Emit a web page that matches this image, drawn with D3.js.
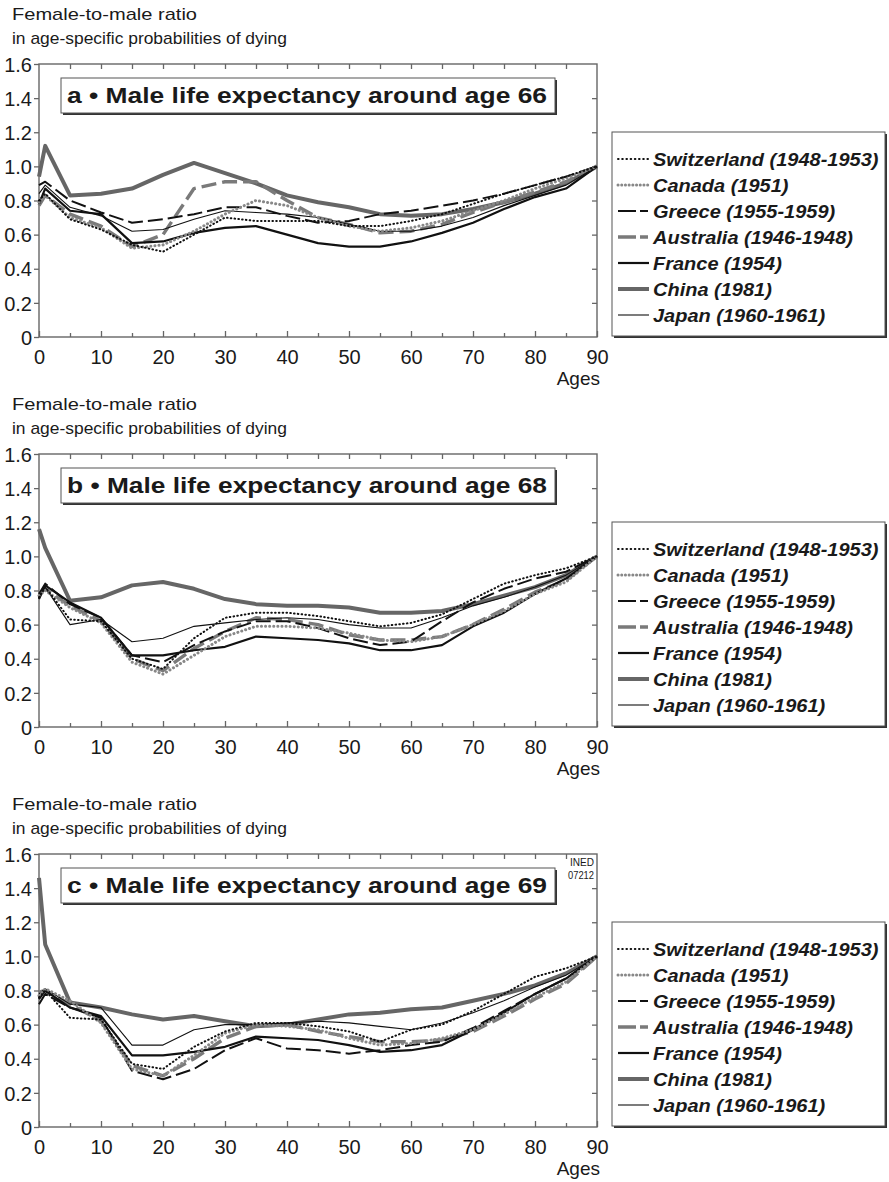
<!DOCTYPE html>
<html>
<head>
<meta charset="utf-8">
<script src="https://cdn.jsdelivr.net/npm/d3@7"></script>
<style>
  body { margin: 0; background: #fff; }
  svg { display: block; }
  text { font-family: "Liberation Sans", Arial, Helvetica, sans-serif; fill: #1a1a1a; }
</style>
</head>
<body>
<svg id="chart" width="889" height="1182"></svg>
<script>
// ages on the x axis
var ages = [0, 1, 5, 10, 15, 20, 25, 30, 35, 40, 45, 50, 55, 60, 65, 70, 75, 80, 85, 90];
var countries = ["Switzerland (1948-1953)", "Canada (1951)", "Greece (1955-1959)",
  "Australia (1946-1948)", "France (1954)", "China (1981)", "Japan (1960-1961)"];
var panelTitles = ["a \u2022  Male life expectancy around age 66",
  "b \u2022  Male life expectancy around age 68",
  "c \u2022  Male life expectancy around age 69"];
var yTicks = [0, 0.2, 0.4, 0.6, 0.8, 1.0, 1.2, 1.4, 1.6];
var yTickLabels = ["0", "0.2", "0.4", "0.6", "0.8", "1.0", "1.2", "1.4", "1.6"];
var xTicks = [0, 10, 20, 30, 40, 50, 60, 70, 80, 90];
var xMinorTicks = [5, 15, 25, 35, 45, 55, 65, 75, 85];

// panel a : life expectancy ~66
var switzA = [0.80, 0.84, 0.69, 0.63, 0.54, 0.50, 0.60, 0.70, 0.68, 0.68, 0.68, 0.65, 0.65, 0.68, 0.72, 0.78, 0.84, 0.89, 0.94, 1.0];
var canadaA = [0.79, 0.83, 0.70, 0.64, 0.52, 0.54, 0.62, 0.72, 0.80, 0.77, 0.70, 0.65, 0.62, 0.64, 0.68, 0.74, 0.80, 0.87, 0.93, 1.0];
var greeceA = [0.89, 0.91, 0.80, 0.73, 0.67, 0.69, 0.72, 0.76, 0.76, 0.71, 0.67, 0.68, 0.72, 0.74, 0.77, 0.80, 0.84, 0.89, 0.94, 1.0];
var austrA = [0.77, 0.83, 0.72, 0.65, 0.53, 0.60, 0.87, 0.91, 0.91, 0.80, 0.70, 0.66, 0.61, 0.62, 0.66, 0.73, 0.79, 0.85, 0.91, 1.0];
var franceA = [0.78, 0.87, 0.74, 0.72, 0.55, 0.56, 0.61, 0.64, 0.65, 0.60, 0.55, 0.53, 0.53, 0.56, 0.61, 0.67, 0.75, 0.82, 0.87, 1.0];
var chinaA = [0.94, 1.12, 0.83, 0.84, 0.87, 0.95, 1.02, 0.96, 0.90, 0.83, 0.79, 0.76, 0.72, 0.71, 0.72, 0.75, 0.79, 0.84, 0.90, 1.0];
var japanA = [0.84, 0.89, 0.76, 0.71, 0.62, 0.63, 0.69, 0.74, 0.73, 0.72, 0.70, 0.66, 0.62, 0.62, 0.65, 0.70, 0.77, 0.83, 0.89, 1.0];

// panel b : life expectancy ~68
var switzB = [0.76, 0.82, 0.63, 0.62, 0.40, 0.34, 0.52, 0.64, 0.67, 0.67, 0.65, 0.62, 0.59, 0.61, 0.66, 0.75, 0.84, 0.89, 0.93, 1.0];
var canadaB = [0.77, 0.80, 0.70, 0.61, 0.38, 0.31, 0.42, 0.53, 0.59, 0.59, 0.58, 0.55, 0.51, 0.50, 0.53, 0.60, 0.68, 0.78, 0.85, 1.0];
var greeceB = [0.78, 0.84, 0.72, 0.64, 0.42, 0.38, 0.48, 0.56, 0.62, 0.62, 0.58, 0.52, 0.48, 0.50, 0.62, 0.73, 0.81, 0.87, 0.91, 1.0];
var austrB = [0.78, 0.81, 0.71, 0.62, 0.40, 0.33, 0.46, 0.56, 0.64, 0.63, 0.60, 0.54, 0.51, 0.51, 0.53, 0.60, 0.69, 0.79, 0.86, 1.0];
var franceB = [0.75, 0.83, 0.73, 0.64, 0.42, 0.42, 0.45, 0.47, 0.53, 0.52, 0.51, 0.49, 0.45, 0.45, 0.48, 0.59, 0.67, 0.78, 0.87, 1.0];
var chinaB = [1.16, 1.05, 0.74, 0.76, 0.83, 0.85, 0.81, 0.75, 0.72, 0.71, 0.71, 0.70, 0.67, 0.67, 0.68, 0.72, 0.77, 0.82, 0.89, 1.0];
var japanB = [0.77, 0.82, 0.60, 0.63, 0.50, 0.52, 0.59, 0.61, 0.63, 0.64, 0.63, 0.60, 0.58, 0.58, 0.64, 0.71, 0.76, 0.82, 0.89, 1.0];

// panel c : life expectancy ~69
var switzC = [0.76, 0.80, 0.64, 0.63, 0.37, 0.34, 0.47, 0.56, 0.61, 0.61, 0.59, 0.56, 0.50, 0.57, 0.60, 0.68, 0.78, 0.88, 0.93, 1.0];
var canadaC = [0.77, 0.81, 0.74, 0.61, 0.34, 0.30, 0.42, 0.55, 0.60, 0.59, 0.57, 0.52, 0.48, 0.49, 0.52, 0.57, 0.66, 0.76, 0.85, 1.0];
var greeceC = [0.72, 0.78, 0.70, 0.64, 0.33, 0.28, 0.34, 0.45, 0.52, 0.46, 0.45, 0.43, 0.45, 0.48, 0.50, 0.58, 0.68, 0.78, 0.87, 1.0];
var austrC = [0.79, 0.80, 0.72, 0.62, 0.36, 0.30, 0.40, 0.52, 0.59, 0.60, 0.56, 0.53, 0.50, 0.50, 0.51, 0.56, 0.65, 0.75, 0.84, 1.0];
var franceC = [0.75, 0.80, 0.70, 0.65, 0.42, 0.42, 0.44, 0.47, 0.53, 0.52, 0.51, 0.48, 0.44, 0.45, 0.48, 0.57, 0.67, 0.78, 0.87, 1.0];
var chinaC = [1.46, 1.07, 0.73, 0.70, 0.66, 0.63, 0.65, 0.62, 0.59, 0.60, 0.63, 0.66, 0.67, 0.69, 0.70, 0.74, 0.78, 0.83, 0.90, 1.0];
var japanC = [0.78, 0.81, 0.72, 0.70, 0.48, 0.48, 0.57, 0.60, 0.60, 0.61, 0.62, 0.61, 0.59, 0.57, 0.61, 0.67, 0.74, 0.82, 0.89, 1.0];

var panels = [
  { top: 64,  title: panelTitles[0], series: [switzA, canadaA, greeceA, austrA, franceA, chinaA, japanA] },
  { top: 454, title: panelTitles[1], series: [switzB, canadaB, greeceB, austrB, franceB, chinaB, japanB] },
  { top: 854, title: panelTitles[2], series: [switzC, canadaC, greeceC, austrC, franceC, chinaC, japanC], stamp: true }
];

// line look for each country, same order as countries
var styles = [
  { color: "#111", width: 2,   dash: "0.6,3.2", cap: "round", legDash: "0.6,3.6" },
  { color: "#888", width: 3,   dash: "0.1,4",   cap: "round", legDash: "0.1,3.6" },
  { color: "#111", width: 2,   dash: "15,5",    cap: "butt",  legDash: "18,4,8,20" },
  { color: "#7a7a7a", width: 3.4, dash: "15,6", cap: "butt",  legDash: "18,4,8,20" },
  { color: "#111", width: 2.2, dash: null,      cap: "butt",  legDash: null },
  { color: "#666", width: 4,   dash: null,      cap: "butt",  legDash: null },
  { color: "#111", width: 1.1, dash: null,      cap: "butt",  legDash: null }
];

var svg = d3.select("#chart");
var left = 39, right = 597, plotH = 273;
var x = d3.scaleLinear().domain([0, 90]).range([left, right]);

// stretch text horizontally, the original type is a bit wide
function stretch(sel, f) {
  sel.each(function() {
    var w = this.getComputedTextLength();
    d3.select(this).attr("textLength", w * f).attr("lengthAdjust", "spacingAndGlyphs");
  });
}

function shadowBox(g, x0, y0, w, h) {
  g.append("rect").attr("x", x0 + 2).attr("y", y0 + 2).attr("width", w).attr("height", h)
    .attr("fill", "#333");
  g.append("rect").attr("x", x0).attr("y", y0).attr("width", w).attr("height", h)
    .attr("fill", "#fff").attr("stroke", "#555").attr("stroke-width", 1);
}

panels.forEach(function(p) {
  var top = p.top, bottom = top + plotH;
  var y = d3.scaleLinear().domain([0, 1.6]).range([bottom, top]);
  var g = svg.append("g");

  // y title, two lines
  g.append("text").attr("x", 12).attr("y", top - 44).attr("font-size", 17)
    .attr("textLength", 185).attr("lengthAdjust", "spacingAndGlyphs").text("Female-to-male ratio");
  g.append("text").attr("x", 12).attr("y", top - 20).attr("font-size", 17)
    .attr("textLength", 275).attr("lengthAdjust", "spacingAndGlyphs").text("in age-specific probabilities of dying");

  // frame
  g.append("rect").attr("x", left).attr("y", top).attr("width", right - left).attr("height", plotH)
    .attr("fill", "none").attr("stroke", "#666").attr("stroke-width", 1.4);

  // axes
  var axL = g.append("g").attr("transform", "translate(" + left + ",0)")
    .call(d3.axisLeft(y).tickValues(yTicks).tickFormat(function(d, i) { return yTickLabels[i]; })
      .tickSize(5).tickPadding(2));
  var axR = g.append("g").attr("transform", "translate(" + right + ",0)")
    .call(d3.axisRight(y).tickValues(yTicks.slice(1, -1)).tickFormat("").tickSize(-5));
  var axT = g.append("g").attr("transform", "translate(0," + top + ")")
    .call(d3.axisTop(x).tickValues(xTicks.concat(xMinorTicks).filter(function(d) { return d > 0 && d < 90; }))
      .tickFormat("").tickSize(-5));
  var axB = g.append("g").attr("transform", "translate(0," + bottom + ")")
    .call(d3.axisBottom(x).tickValues(xTicks).tickSize(-6).tickPadding(13));
  var axBm = g.append("g").attr("transform", "translate(0," + bottom + ")")
    .call(d3.axisBottom(x).tickValues(xMinorTicks).tickFormat("").tickSize(-4));

  [axL, axR, axT, axB, axBm].forEach(function(a) {
    a.select(".domain").remove();
    a.selectAll(".tick line").attr("stroke", "#666").attr("stroke-width", 1.3);
    a.selectAll(".tick text").attr("fill", "#1a1a1a").attr("font-size", 20)
      .attr("font-family", "\"Liberation Sans\", Arial, sans-serif");
  });
  axL.selectAll(".tick text").attr("dy", "0.36em");
  axB.selectAll(".tick text").attr("dy", "0.71em");

  g.append("text").attr("x", 600).attr("y", bottom + 48).attr("text-anchor", "end")
    .attr("font-size", 19).text("Ages");

  // panel title box
  shadowBox(g, 61, top + 14, 494, 35);
  var tt = g.append("text").attr("x", 67).attr("y", top + 39).attr("font-size", 22.5)
    .attr("font-weight", "bold").text(p.title);
  tt.attr("textLength", 480).attr("lengthAdjust", "spacingAndGlyphs");

  if (p.stamp) {
    g.append("text").attr("x", 594).attr("y", top + 12).attr("text-anchor", "end")
      .attr("font-size", 10.5).attr("textLength", 24).attr("lengthAdjust", "spacingAndGlyphs").text("INED");
    g.append("text").attr("x", 594).attr("y", top + 25).attr("text-anchor", "end")
      .attr("font-size", 10.5).attr("textLength", 26).attr("lengthAdjust", "spacingAndGlyphs").text("07212");
  }

  // lines, drawn back to front
  var line = d3.line().x(function(d, i) { return x(ages[i]); }).y(function(d) { return y(d); });
  var order = [5, 3, 6, 4, 2, 1, 0];
  order.forEach(function(k) {
    var s = styles[k];
    g.append("path").datum(p.series[k]).attr("d", line)
      .attr("fill", "none").attr("stroke", s.color).attr("stroke-width", s.width)
      .attr("stroke-linecap", s.cap).attr("stroke-linejoin", "round")
      .attr("stroke-dasharray", s.dash);
  });

  // legend
  var lg = svg.append("g");
  var lx = 612, ly = top + 68, lw = 275, lh = 204;
  shadowBox(lg, lx, ly, lw - 2, lh);
  countries.forEach(function(c, i) {
    var s = styles[i], cy = ly + 27 + i * 26;
    lg.append("line").attr("x1", 618).attr("x2", 649).attr("y1", cy).attr("y2", cy)
      .attr("stroke", s.color).attr("stroke-width", s.width)
      .attr("stroke-linecap", s.cap).attr("stroke-dasharray", s.legDash);
    var lt = lg.append("text").attr("x", 653).attr("y", cy + 7).attr("font-size", 18.5)
      .attr("font-weight", "bold").attr("font-style", "italic").text(c);
    stretch(lt, 1.08);
  });
});
</script>
</body>
</html>
